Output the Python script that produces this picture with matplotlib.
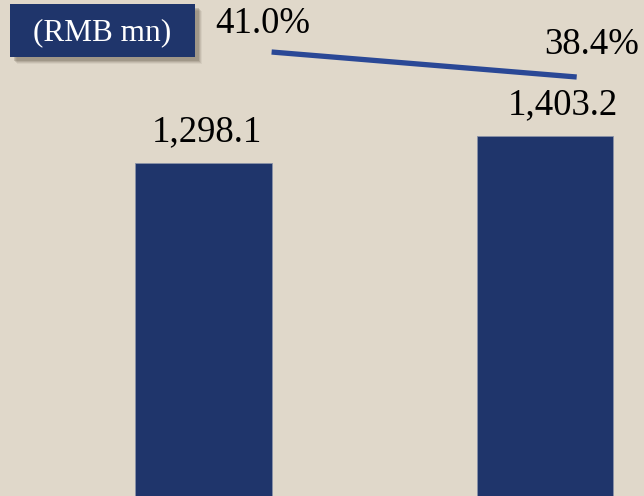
import numpy as np
import matplotlib.pyplot as plt
from matplotlib.patches import Rectangle

plt.rcParams['font.family'] = ['Liberation Serif', 'DejaVu Serif']

# revenue (RMB mn) and margin (%)
periods = ['2019', '2020']
revenue = [1298.1, 1403.2]
margin = [41.0, 38.4]

bg = '#E0D8CA'
navy = '#1F356B'
line_blue = '#2A4896'

fig = plt.figure(figsize=(6.44, 4.96), dpi=100, facecolor=bg)
ax = fig.add_axes([0, 0, 1, 1])
ax.set_facecolor(bg)

x = np.arange(len(periods))
ax.bar(x, revenue, width=0.4, color=navy, edgecolor='#8A93A8', linewidth=0.6)
bar_dx = [0.012, 0.053]
for xi, v, dx in zip(x, revenue, bar_dx):
    ax.text(xi + dx, v + 120, f'{v:,.1f}', ha='center', va='center', fontsize=26.5, color='black')
ax.set_xlim(-0.595, 1.29)
ax.set_ylim(0, 1934)
ax.axis('off')

# margin line on its own scale, shifted right of the bars
ax2 = ax.twinx()
ax2.set_ylim(-5.18, 46.41)
xl = x + np.array([0.2, 0.093])
ax2.plot(xl, margin, color=line_blue, lw=3.8, solid_capstyle='butt')
label_dx = [-0.025, 0.044]
label_dy = [2.9, 3.35]
for xi, m, dx, dy in zip(xl, margin, label_dx, label_dy):
    ax2.text(xi + dx, m + dy, f'{m:.1f}%', ha='center', va='center', fontsize=26.5, color='black')
ax2.axis('off')

# unit tag with a soft drop shadow
for i, a in enumerate([0.08, 0.12, 0.16, 0.22]):
    off = 7 - i
    fig.patches.append(Rectangle(((10 + off) / 644, 1 - (57 + off) / 496), 185 / 644, 53 / 496,
                                 transform=fig.transFigure, facecolor='#5a5040', alpha=a,
                                 edgecolor='none', zorder=1))
fig.patches.append(Rectangle((10 / 644, 1 - 57 / 496), 185 / 644, 53 / 496,
                             transform=fig.transFigure, facecolor=navy, edgecolor='none', zorder=2))
fig.text(102.5 / 644, 1 - 33 / 496, '(RMB mn)', ha='center', va='center', fontsize=22.5,
         color='white', zorder=3)

fig.savefig('out.png', dpi=100, facecolor=bg)
